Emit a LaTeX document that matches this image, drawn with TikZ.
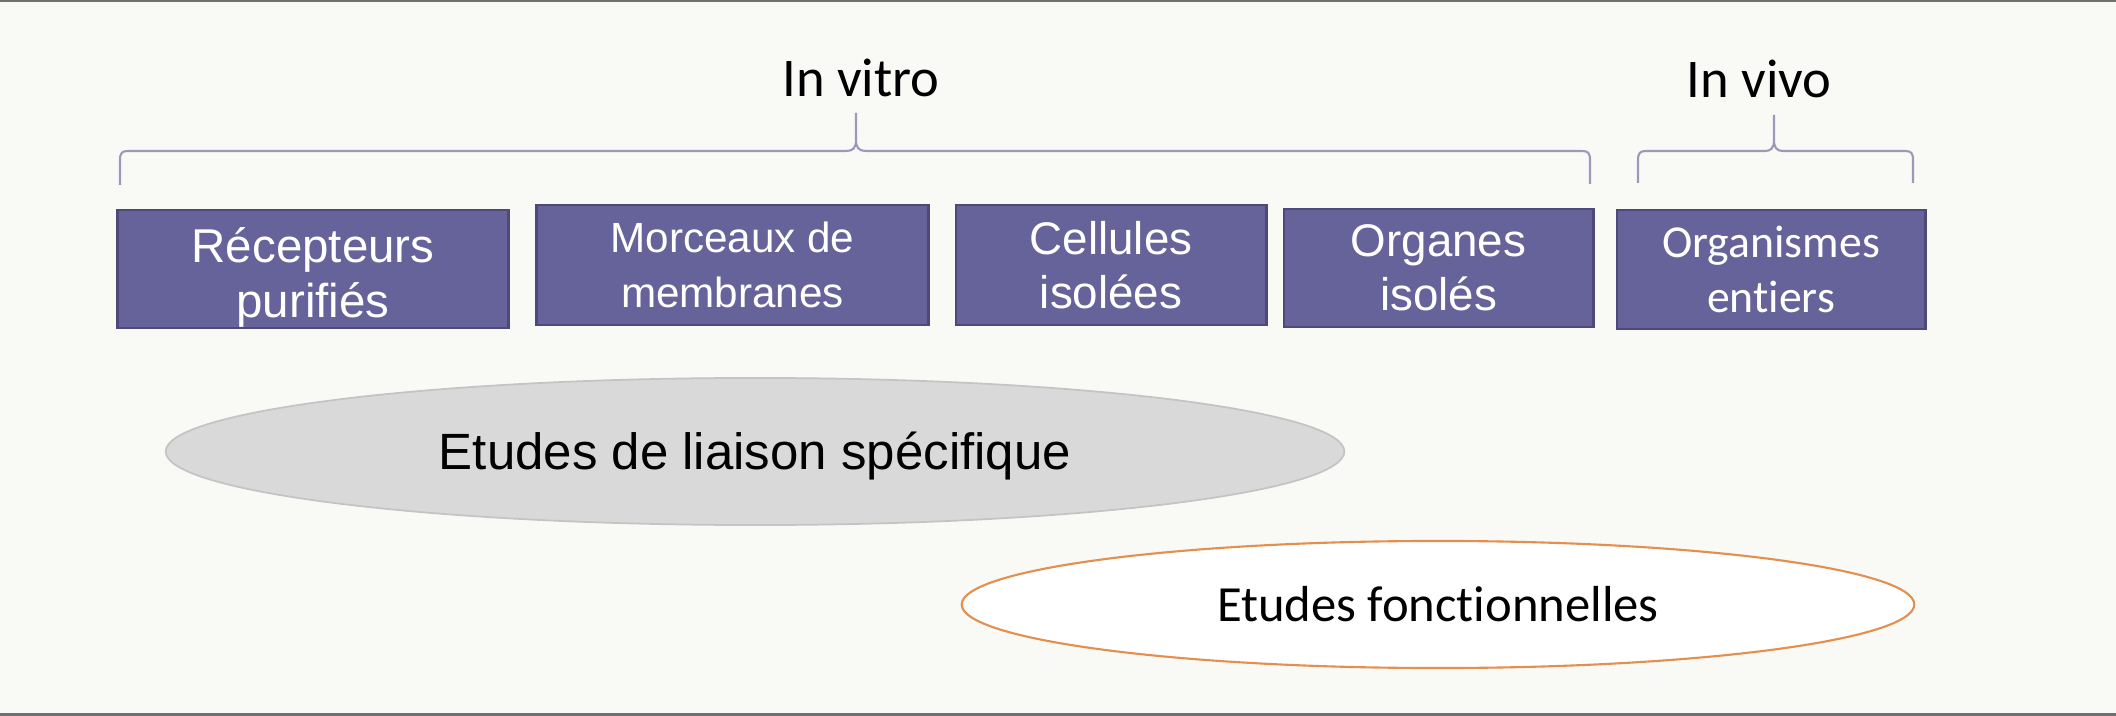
\documentclass[tikz,border=0pt]{standalone}
\usepackage{fontspec}
\setmainfont{Liberation Sans}
\newfontfamily\calib[Ligatures=NoCommon]{Carlito}
\usetikzlibrary{shapes.geometric}
\definecolor{bg}{HTML}{F9F9F6}
\definecolor{framec}{HTML}{707070}
\definecolor{boxfill}{HTML}{66639A}
\definecolor{boxedge}{HTML}{4D4A7A}
\definecolor{bracec}{HTML}{9B99BA}
\definecolor{grayfill}{HTML}{D9D9D9}
\definecolor{grayedge}{HTML}{C4C4C4}
\definecolor{orangec}{HTML}{E58F4E}
\begin{document}
\begin{tikzpicture}[x=0.01cm,y=-0.01cm,
  stagebox/.style={draw=boxedge, fill=boxfill, line width=0.8pt, text=white, align=center, inner sep=0pt},
  bracepath/.style={draw=bracec, line width=0.6pt},
  headlabel/.style={anchor=base, font=\calib\fontsize{15.5}{18}\selectfont},
  framepath/.style={draw=framec, line width=0.6pt}]
\fill[bg] (0,0) rectangle (2116,716);
\useasboundingbox (0,0) rectangle (2116,716);
\draw[framepath] (0,1) -- (2116,1);
\draw[framepath] (0,714.5) -- (2116,714.5);

% boxes
\node[stagebox, minimum width=3.90cm, minimum height=1.18cm, font=\fontsize{13.5}{15.5}\selectfont] (rec) at (313,269) {\rule{0pt}{14.7pt}Récepteurs\\purifiés};
\node[stagebox, minimum width=3.91cm, minimum height=1.20cm, font=\fontsize{12}{15.5}\selectfont] (mor) at (732.5,265) {Morceaux de\\membranes};
\node[stagebox, minimum width=3.10cm, minimum height=1.20cm, font=\fontsize{13}{15.5}\selectfont] (cel) at (1111,265) {Cellules\\isolées};
\node[stagebox, minimum width=3.09cm, minimum height=1.18cm, font=\fontsize{13}{15.5}\selectfont] (org) at (1438.5,268) {Organes\\isolés};
\node[stagebox, minimum width=3.08cm, minimum height=1.19cm, font=\calib\fontsize{13}{15.5}\selectfont] (ent) at (1771,269.5) {Organismes\\entiers};

% braces
\draw[bracepath] (120,185) -- (120,160) .. controls (120,153) and (122,151) .. (128,151) -- (846,151)
  .. controls (853,151) and (856,148) .. (856,140) -- (856,113) -- (856,140)
  .. controls (856,148) and (859,151) .. (866,151) -- (1582,151)
  .. controls (1588,151) and (1590,153) .. (1590,160) -- (1590,184);
\draw[bracepath] (1638,183) -- (1638,160) .. controls (1638,153) and (1640,151) .. (1646,151) -- (1765,151)
  .. controls (1771,151) and (1774,148) .. (1774,140) -- (1774,115) -- (1774,140)
  .. controls (1774,148) and (1777,151) .. (1783,151) -- (1905,151)
  .. controls (1911,151) and (1913,153) .. (1913,160) -- (1913,183);

\node[headlabel] (vitro) at (861,97) {In vitro};
\node[headlabel] (vivo) at (1759,98) {In vivo};

% ellipses
\node[ellipse, fill=grayfill, draw=grayedge, line width=0.5pt, minimum width=11.78cm, minimum height=1.47cm, inner sep=0pt, text height=10.5pt, text depth=0pt, font=\fontsize{14.5}{17}\selectfont] (liai) at (755,451.5) {Etudes de liaison spécifique};
\node[ellipse, fill=white, draw=orangec, line width=0.6pt, minimum width=9.52cm, minimum height=1.27cm, inner sep=0pt, text height=9.4pt, text depth=0pt, font=\calib\fontsize{14.4}{17}\selectfont] (fonc) at (1438,604.5) {Etudes fonctionnelles};
\end{tikzpicture}
\end{document}
